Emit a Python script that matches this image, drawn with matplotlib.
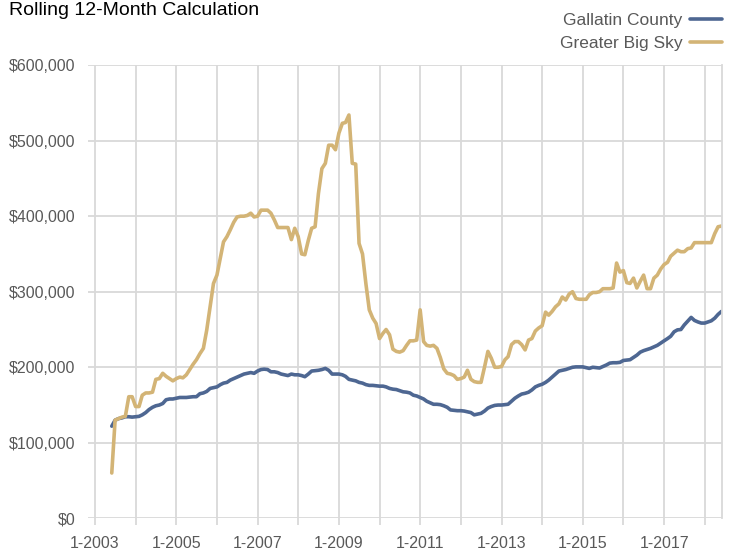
import matplotlib
matplotlib.use("Agg")
import matplotlib.pyplot as plt
from matplotlib.ticker import FuncFormatter
import pandas as pd

# ============= DATA =============
months = pd.date_range("2003-06-01", "2018-06-01", freq="MS")

# rolling 12-month median price, in $1,000 (Jun 2003 .. Jun 2018)
gallatin_county = [
    122, 130, 132, 133, 134.5, 134.5, 134,                                  # 2003
    134.5, 135, 137, 140, 144, 147, 149, 150, 152, 157, 158, 158,            # 2004
    159, 160, 160, 160, 160.5, 161, 161, 165, 166, 168, 172, 173,            # 2005
    174, 177, 179, 180, 183, 185, 187, 189, 191, 192, 193, 192,              # 2006
    195, 197, 197.5, 197, 194, 194, 193, 191, 190, 189, 191, 190,            # 2007
    190, 189, 187.5, 191, 195, 195.5, 196, 197, 198.5, 196, 191, 191,        # 2008
    191, 190, 188, 184, 183, 182, 180, 179, 177, 176, 176, 175.5,            # 2009
    175, 175, 174, 172, 171, 170.5, 169, 167.5, 167, 166, 163, 162,          # 2010
    160, 158, 155, 153, 151, 151, 150.5, 149, 147, 143.5, 143, 142.5,        # 2011
    142.5, 142, 141, 140, 137, 138, 139, 142, 146, 148, 149.5, 150,          # 2012
    150, 150.5, 151, 155, 159, 162, 164.5, 165.5, 167, 170, 174, 176,        # 2013
    177.5, 180, 183, 187, 191, 195, 196, 197, 198.5, 200, 200.5, 200.5,      # 2014
    200.5, 199.5, 198.5, 200, 199.5, 199, 201, 203, 205.5, 206, 206, 206.5,  # 2015
    209, 209.5, 210, 213, 216, 220, 222, 223.5, 225, 227, 229, 232,          # 2016
    235, 238, 241, 247, 249.5, 250, 256, 261, 266, 262, 260, 258.5,          # 2017
    258.5, 260, 261.5, 265, 270, 274,                                        # 2018
]

greater_big_sky = [
    60, 130, 132, 134, 135, 161, 161,                                        # 2003
    148, 148, 163, 166, 166, 167, 184, 185, 192, 188, 185, 182,              # 2004
    185, 187, 186, 190, 197, 204, 210, 218, 225, 249, 280, 311,              # 2005
    322, 345, 366, 373, 382, 392, 399, 400, 400, 401, 404, 399,              # 2006
    400, 408, 408, 408, 404, 395, 385, 385, 385, 385, 369, 384,              # 2007
    373, 350, 349, 368, 384, 386, 430, 463, 470, 494, 494, 488,              # 2008
    510, 523, 524, 534, 470, 469, 364, 350, 310, 276, 265, 258,              # 2009
    238, 245, 250, 243, 224, 221, 220, 222, 229, 235, 235, 236,              # 2010
    276, 234, 229, 228, 229, 225, 213, 198, 192, 191, 189, 184,              # 2011
    185, 187, 196, 184, 181, 180, 180, 200, 221, 212, 200, 200,              # 2012
    201, 210, 214, 230, 234, 234, 230, 223, 236, 238, 248, 252,              # 2013
    255, 273, 269, 274, 280, 284, 293, 289, 297, 300, 291, 290,              # 2014
    290, 290, 296, 299, 299, 300, 304, 304, 304, 305, 338, 326,              # 2015
    328, 312, 311, 318, 305, 314, 322, 304, 304, 318, 322, 330,              # 2016
    336, 339, 347, 351, 355, 353, 353, 357, 358, 365, 365, 365,              # 2017
    365, 365, 365, 377, 386, 387,                                            # 2018
]

series_names = ["Gallatin County", "Greater Big Sky"]
series_colors = ["#4e6792", "#d3b476"]

tick_years = list(range(2003, 2019))
label_years = list(range(2003, 2018, 2))

# ============= PLOT =============
fig = plt.figure(figsize=(7.32, 5.52), dpi=100)
ax = fig.add_axes([0.120, 0.061, 0.866, 0.821])

font = ["Liberation Sans", "DejaVu Sans"]
grid_color = "#d9d9d9"
text_color = "#595959"

for name, vals, color in zip(series_names, [gallatin_county, greater_big_sky], series_colors):
    ax.plot(months, [v * 1000 for v in vals], color=color, lw=2.6, label=name,
            solid_joinstyle="round", solid_capstyle="round")

ax.set_ylim(0, 600000)
ax.set_yticks(range(0, 600001, 100000))
ax.yaxis.set_major_formatter(FuncFormatter(lambda v, p: f"${v:,.0f}"))

ax.set_xlim(pd.Timestamp("2002-10-29"), pd.Timestamp("2018-06-03"))
ax.set_xticks([pd.Timestamp(f"{y}-01-01") for y in tick_years])
ax.set_xticklabels([f"1-{y}" if y in label_years else "" for y in tick_years])

ax.grid(True, color=grid_color, lw=1.3)
ax.set_axisbelow(True)
for side in ["top", "left", "bottom"]:
    ax.spines[side].set_visible(False)
ax.spines["right"].set_color(grid_color)
ax.spines["right"].set_linewidth(1.3)

ax.tick_params(axis="x", length=5, width=1.3, color=grid_color, pad=8,
               labelsize=11.5, labelcolor=text_color)
ax.tick_params(axis="y", length=0, pad=9, labelsize=11.5, labelcolor=text_color)
for lbl in ax.get_xticklabels() + ax.get_yticklabels():
    lbl.set_family(font)

fig.text(0.012, 0.997, "Rolling 12-Month Calculation", ha="left", va="top",
         fontsize=14, family=font, color="black")

leg = fig.legend(loc="upper right", bbox_to_anchor=(1.008, 1.005), frameon=False,
                 markerfirst=False, handlelength=1.85, handletextpad=0.45,
                 labelspacing=0.45, prop={"family": font, "size": 12.5})
for t in leg.get_texts():
    t.set_color(text_color)

plt.savefig("out.png", dpi=100)
